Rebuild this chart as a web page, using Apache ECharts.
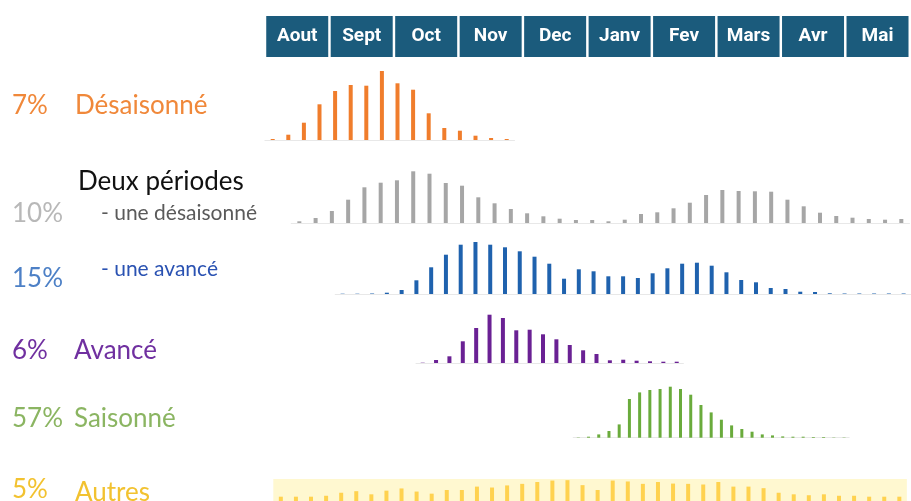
<!DOCTYPE html>
<html><head><meta charset="utf-8">
<script src="https://cdn.jsdelivr.net/npm/echarts@6/dist/echarts.min.js"></script>
<style>html,body{margin:0;padding:0;background:#fff}#c{width:911px;height:501px}</style>
</head><body><div id="c"></div>
<script>
// ---- DATA ----
const months = ['Aout','Sept','Oct','Nov','Dec','Janv','Fev','Mars','Avr','Mai'];
const shareLabels = ['7%','10%','15%','6%','57%','5%'];
const rowNames = ['Désaisonné','- une désaisonné','- une avancé','Avancé','Saisonné','Autres'];
const groupTitle = 'Deux périodes';
const desaisonne = [1,5.3,17.3,35.7,49,55,54.3,69,56.7,50.3,26.7,12,9.3,4.3,2,1];
const deuxDesaisonne = [1.7,5,12,23.3,35.7,40.3,42.7,51.7,49.3,40,37.3,25.7,19.7,14,9.7,6.7,4.3,3,3,1.7,3.3,9,10.7,14.7,20.3,28,33,32,31.7,31.3,23.3,16.7,10.3,7,5.3,4,3.3,4];
const deuxAvance = [0.3,0.3,0.5,1.3,4,13.7,26.7,39.3,49.3,52,49.3,46.7,42.7,37.3,30.3,15.3,24.7,22.7,17.7,17.7,16,20.7,25.7,30.3,31.3,28.3,21.7,14,11.7,6,5,2.3,2,0.7,0.5,0.5,0.5,0.5,0.5];
const avance = [0.3,3,6.7,21.7,35,48.3,45,32.7,33.3,28.7,23.7,18,12.7,9,2.7,3.3,2.3,1.7,1.3,1.3];
const saisonne = [0.3,1,3.3,6.7,13.3,38.7,45.3,47.7,48.7,51,48.7,43,32.7,25.3,18,12.3,8.7,6,3.3,2.3,1.3,1,1,0.7,0.7,0.3,0.3];
const autres = [4.7,4.7,4.7,5.7,9,10.7,7.3,11.3,13.7,10.3,8,12,12,15.7,14.7,17,18.7,20.7,22.3,22.7,17.3,12,22.3,21.3,18.7,20.7,19,18.7,18,20.7,15.7,15.7,14,9,7.3,6.3,7.3,5.7,5.7,4.7,4.7,4.7];

// ---- LAYOUT ----
const rows = [
  {data: desaisonne,     color:'#f07d2c', left:264.9, step:15.6,  base:140,   h:80, bw:4},
  {data: deuxDesaisonne, color:'#a6a6a6', left:291.2, step:16.27, base:223,   h:60, bw:4},
  {data: deuxAvance,     color:'#1f62ae', left:335.2, step:14.91, base:294,   h:60, bw:4},
  {data: avance,         color:'#6a2194', left:416.0, step:13.37, base:363,   h:60, bw:4},
  {data: saisonne,       color:'#6aab3c', left:573.2, step:10.22, base:437.7, h:60, bw:3},
  {data: autres,         color:'#ffd24f', left:273.3, step:15.085,base:503,   h:24, bw:4, band:'#fff8d0'}
];
const grids=[], xAxes=[], yAxes=[], series=[];
rows.forEach((r,i)=>{
  grids.push({left:r.left, width:r.step*r.data.length, top:r.base-r.h, height:r.h,
    show:!!r.band, backgroundColor:r.band||'transparent', borderWidth:0});
  xAxes.push({type:'category', gridIndex:i, data:r.data.map((_,k)=>String(k)),
    axisLine:{show:!r.band, lineStyle:{color:'#e8e8e8', width:1}},
    axisTick:{show:false}, axisLabel:{show:false}, splitLine:{show:false}});
  yAxes.push({type:'value', gridIndex:i, min:0, max:r.h, show:false});
  series.push({type:'bar', xAxisIndex:i, yAxisIndex:i, data:r.data, barWidth:r.bw,
    itemStyle:{color:r.color}, silent:true});
});
// header grid
const hi = rows.length;
grids.push({left:265, width:655, top:57, height:1});
xAxes.push({type:'category', gridIndex:hi, position:'top', data:months,
  axisLine:{show:false}, axisTick:{show:false},
  axisLabel:{interval:0, margin:0, color:'#fff', fontFamily:'Roboto', fontWeight:'bold', fontSize:19,
    backgroundColor:'#1b5b7c', width:62, height:41, lineHeight:41, align:'center', verticalAlign:'bottom'}});
yAxes.push({type:'value', gridIndex:hi, show:false});

// side texts
const fam = 'Lato, "Open Sans", sans-serif';
const tx = (text,x,y,size,color,weight)=>({type:'text', left:x, top:y, style:{text, fontSize:size, fill:color, fontFamily:fam, fontWeight:weight||'normal'}});
const graphic = [
  tx(shareLabels[0],12,93,26,'#f0883a'), tx(rowNames[0],75,93,26,'#f0883a'),
  tx(groupTitle,78,169,26,'#111111'),
  tx(shareLabels[1],12,201,26,'#b8b8b8'), tx(rowNames[1],101,203,21,'#5a5a5a'),
  tx(shareLabels[2],12,266,26,'#4d80c6'), tx(rowNames[2],101,259,21,'#2a52b2'),
  tx(shareLabels[3],12,338,26,'#7030a0'), tx(rowNames[3],74,338,26,'#7030a0'),
  tx(shareLabels[4],12,406,26,'#8bb562'), tx(rowNames[4],74,406,26,'#8bb562'),
  tx(shareLabels[5],12,477,26,'#f2c230'), tx(rowNames[5],75,480,26,'#f2c230')
];

const chart = echarts.init(document.getElementById('c'), null, {renderer:'canvas'});
chart.setOption({animation:false, grid:grids, xAxis:xAxes, yAxis:yAxes, series, graphic});
</script></body></html>
